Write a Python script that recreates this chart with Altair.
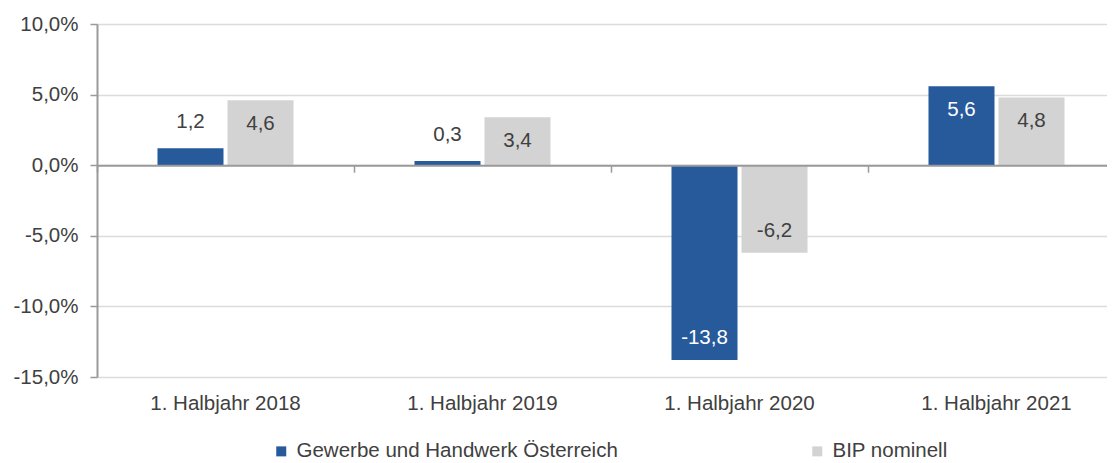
import altair as alt
import pandas as pd

categories = ["1. Halbjahr 2018", "1. Halbjahr 2019", "1. Halbjahr 2020", "1. Halbjahr 2021"]
series_names = ["Gewerbe und Handwerk Österreich", "BIP nominell"]
gewerbe = [1.2, 0.3, -13.8, 5.6]
bip = [4.6, 3.4, -6.2, 4.8]
y_ticks = [-15, -10, -5, 0, 5, 10]

rows = []
for c, g, b in zip(categories, gewerbe, bip):
    rows.append({"cat": c, "series": series_names[0], "value": g})
    rows.append({"cat": c, "series": series_names[1], "value": b})
df = pd.DataFrame(rows)

FONT = "Liberation Sans"
TXT = "#404040"
BLUE = "#275A9B"
GRAY = "#D3D3D3"
AXC = "#9A9A9A"
FS = 20.5
H = 353
W = 1010
BAND_RANGE = 1028

label_expr = "(datum.value < 0 ? '-' : '') + replace(format(abs(datum.value), '.1f'), '.', ',')"

x_scale = alt.Scale(paddingInner=0, paddingOuter=0, range=[0, BAND_RANGE])
xo = alt.XOffset("series:N", sort=series_names,
                 scale=alt.Scale(paddingInner=0.057, paddingOuter=0.864))
y_scale = alt.Scale(domain=[-15, 10], nice=False, zero=False)
y_axis = alt.Axis(title=None, values=y_ticks, labelExpr=label_expr + " + '%'",
                  grid=True, gridColor="#DCDCDC", gridWidth=1.5,
                  domainColor=AXC, domainWidth=2, tickColor=AXC, tickWidth=1.5,
                  tickSize=7, labelPadding=12, labelFontSize=FS, labelColor=TXT,
                  labelFont=FONT)
y_enc = alt.Y("value:Q", scale=y_scale, axis=y_axis)

bottom_axis = alt.Axis(title=None, orient="bottom", labelAngle=0, domain=False,
                       ticks=False, tickSize=0, labelPadding=16, labelFontSize=FS,
                       labelColor=TXT, labelFont=FONT, grid=False)
zero_axis = alt.Axis(title=None, orient="bottom", offset=-(H * 15 / 25), labels=False,
                     domain=True, domainColor=AXC, domainWidth=2, ticks=True,
                     tickBand="extent", tickSize=7, tickColor=AXC, tickWidth=1.5,
                     grid=False, zindex=1)

base = alt.Chart(df)

bars = base.mark_bar().encode(
    x=alt.X("cat:N", sort=categories, scale=x_scale, axis=bottom_axis),
    xOffset=xo,
    y=y_enc,
    color=alt.Color("series:N", sort=series_names,
                    scale=alt.Scale(domain=series_names, range=[BLUE, GRAY]),
                    legend=alt.Legend(title=None, orient="none", legendX=174, legendY=417,
                                      direction="horizontal", symbolType="square",
                                      symbolSize=100, symbolStrokeWidth=0,
                                      labelFontSize=FS, labelFont=FONT, labelColor=TXT,
                                      labelOffset=5, columnPadding=189, labelLimit=0)),
)

is_blue = f"datum.series == '{series_names[0]}'"

txt_base = base.transform_calculate(label=label_expr)

inside_pos = txt_base.transform_filter("datum.value >= 2").mark_text(
    dy=24, baseline="middle", fontSize=FS, font=FONT
).encode(
    x=alt.X("cat:N", sort=categories, scale=x_scale, axis=zero_axis),
    xOffset=xo,
    y=y_enc,
    text="label:N",
    color=alt.condition(is_blue, alt.value("#FFFFFF"), alt.value(TXT)),
)

inside_neg = txt_base.transform_filter("datum.value <= -2").mark_text(
    dy=-22, baseline="middle", fontSize=FS, font=FONT
).encode(
    x=alt.X("cat:N", sort=categories, scale=x_scale, axis=None),
    xOffset=xo,
    y=y_enc,
    text="label:N",
    color=alt.condition(is_blue, alt.value("#FFFFFF"), alt.value(TXT)),
)

outside = txt_base.transform_filter("datum.value > -2 && datum.value < 2").mark_text(
    dy=-26, baseline="middle", fontSize=FS, font=FONT, color=TXT
).encode(
    x=alt.X("cat:N", sort=categories, scale=x_scale, axis=None),
    xOffset=xo,
    y=y_enc,
    text="label:N",
)

chart = alt.layer(bars, inside_pos, inside_neg, outside).resolve_axis(
    x="independent"
).properties(
    width=W, height=H,
    autosize=alt.AutoSizeParams(type="none"),
    padding={"left": 89, "top": 16, "right": 0, "bottom": 86},
).configure_view(stroke=None).configure(font=FONT)

chart.save("out.html", embed_options={"renderer": "svg", "actions": False})
